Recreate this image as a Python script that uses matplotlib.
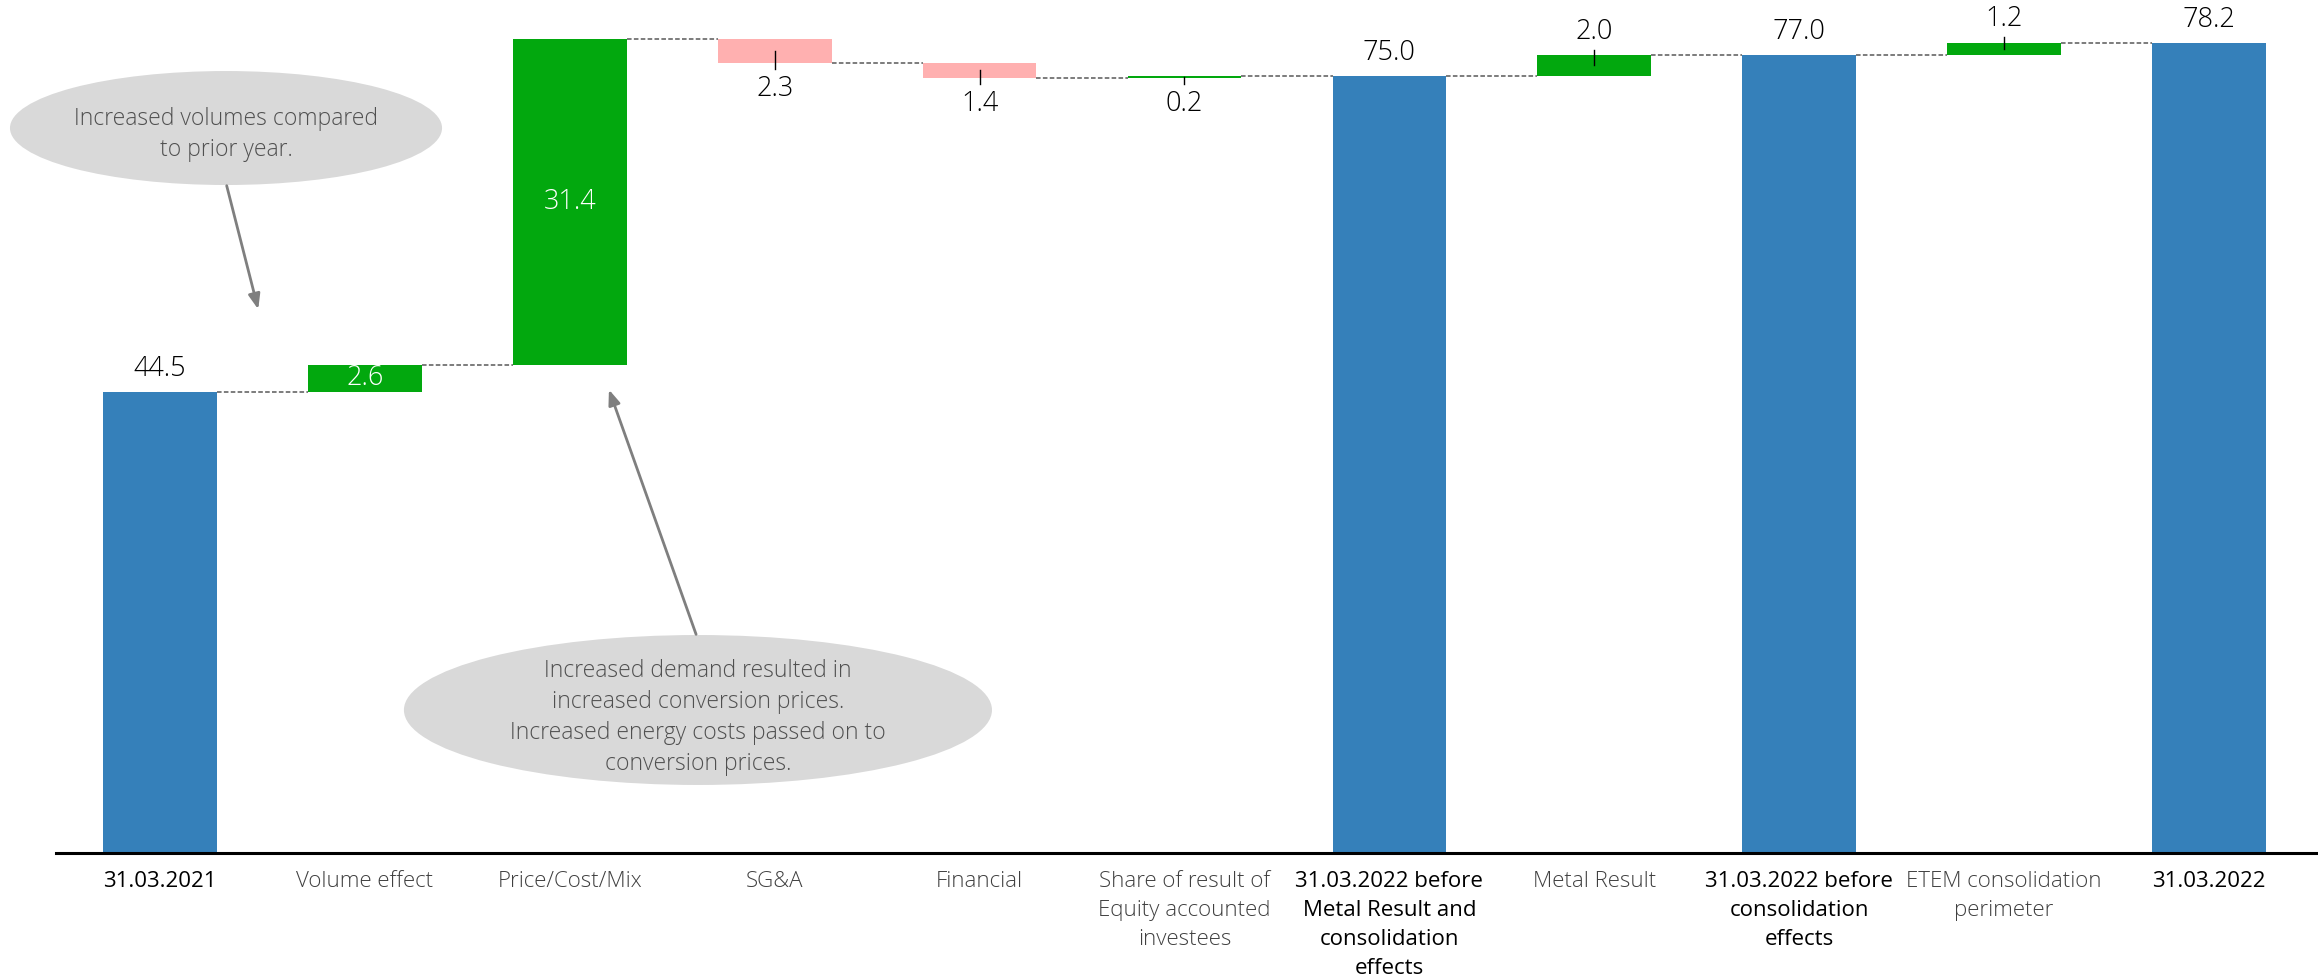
import matplotlib
matplotlib.use("Agg")
import matplotlib.pyplot as plt
from matplotlib.patches import Ellipse

plt.rcParams['font.family'] = ['Open Sans', 'DejaVu Sans']

# waterfall data
categories = ["31.03.2021", "Volume effect", "Price/Cost/Mix", "SG&A", "Financial",
              "Share of result of\nEquity accounted\ninvestees",
              "31.03.2022 before\nMetal Result and\nconsolidation\neffects",
              "Metal Result",
              "31.03.2022 before\nconsolidation\neffects",
              "ETEM consolidation\nperimeter", "31.03.2022"]
values = [44.5, 2.6, 31.4, -2.3, -1.4, 0.2, 75.0, 2.0, 77.0, 1.2, 78.2]
is_total = [True, False, False, False, False, False, True, False, True, False, True]
label_pos = ["above", "inside", "inside", "below", "below", "below",
             "above", "above", "above", "above", "above"]

blue = "#3580BA"
green = "#02A80E"
pink = "#FFB0B0"

fig = plt.figure(figsize=(23.18, 9.75), dpi=100)
ax = fig.add_axes([0.0242, 0.125, 0.9758, 0.875])

bottoms, heights, colors = [], [], []
running = 0.0
for v, tot in zip(values, is_total):
    if tot:
        bottoms.append(0.0)
        heights.append(v)
        colors.append(blue)
        running = v
    else:
        bottoms.append(running if v >= 0 else running + v)
        heights.append(abs(v))
        colors.append(green if v >= 0 else pink)
        running += v

x = list(range(len(values)))
w = 0.555
ax.bar(x, heights, bottom=bottoms, width=w, color=colors, edgecolor="none")

# connector lines
levels = [b + h if (tot or values[i] >= 0) else b for i, (b, h, tot) in enumerate(zip(bottoms, heights, is_total))]
for i in range(len(values) - 1):
    ax.plot([i + w / 2, i + 1 - w / 2], [levels[i], levels[i]], color="#595959",
            lw=1.1, ls=(0, (3, 1.5)))

# value labels
lbl = dict(fontsize=19.5, fontweight="light", color="black")
for i, v in enumerate(values):
    b, h = bottoms[i], heights[i]
    txt = f"{abs(v):.1f}"
    pos = label_pos[i]
    if pos == "inside":
        ax.text(i, b + h / 2, txt, ha="center", va="center", **{**lbl, "color": "white"})
    elif is_total[i]:
        ax.annotate(txt, (i, b + h), xytext=(0, 9), textcoords="offset pixels",
                    ha="center", va="bottom", **lbl)
    elif pos == "above":
        ax.plot([i, i], [b + h / 2, b + h + 0.5], color="black", lw=1)
        ax.annotate(txt, (i, b + h + 0.5), xytext=(0, 4), textcoords="offset pixels",
                    ha="center", va="bottom", **lbl)
    else:
        ax.plot([i, i], [b + h / 2, b - 0.6], color="black", lw=1)
        ax.annotate(txt, (i, b - 0.6), xytext=(0, -6), textcoords="offset pixels",
                    ha="center", va="top", **lbl)

ax.set_xlim(-0.507, 10.532)
ax.set_ylim(0, 82.3)
ax.set_yticks([])
ax.set_xticks(x)
ax.set_xticklabels(categories)
for lab, tot in zip(ax.get_xticklabels(), is_total):
    lab.set_fontsize(16)
    lab.set_linespacing(1.5)
    if tot:
        lab.set_color("black")
        lab.set_fontweight("normal")
    else:
        lab.set_color("#404040")
        lab.set_fontweight("light")
ax.tick_params(axis="x", length=0, pad=13)
for s in ["top", "right", "left"]:
    ax.spines[s].set_visible(False)
ax.spines["bottom"].set_linewidth(2.2)

# callouts
e1 = Ellipse((0.0975, 0.8687), 0.1864, 0.1169, transform=fig.transFigure,
             facecolor="#D9D9D9", edgecolor="none")
e2 = Ellipse((0.3011, 0.2718), 0.2537, 0.1538, transform=fig.transFigure,
             facecolor="#D9D9D9", edgecolor="none")
fig.add_artist(e1)
fig.add_artist(e2)
note = dict(ha="center", va="center", fontsize=16.5, color="#505050", fontweight="light",
            linespacing=1.38)
fig.text(0.0975, 0.862, "Increased volumes compared\nto prior year.", **note)
fig.text(0.3011, 0.264, "Increased demand resulted in\nincreased conversion prices.\n"
         "Increased energy costs passed on to\nconversion prices.", **note)

arrow = dict(arrowstyle="-|>,head_length=0.9,head_width=0.35", color="#7F7F7F", lw=2)
fig.add_artist(plt.Annotation("", xy=(0.1117, 0.680), xytext=(0.0975, 0.8123),
                              xycoords="figure fraction", arrowprops=arrow))
fig.add_artist(plt.Annotation("", xy=(0.2623, 0.6031), xytext=(0.3007, 0.3467),
                              xycoords="figure fraction", arrowprops=arrow))

fig.savefig("out.png", dpi=100)
